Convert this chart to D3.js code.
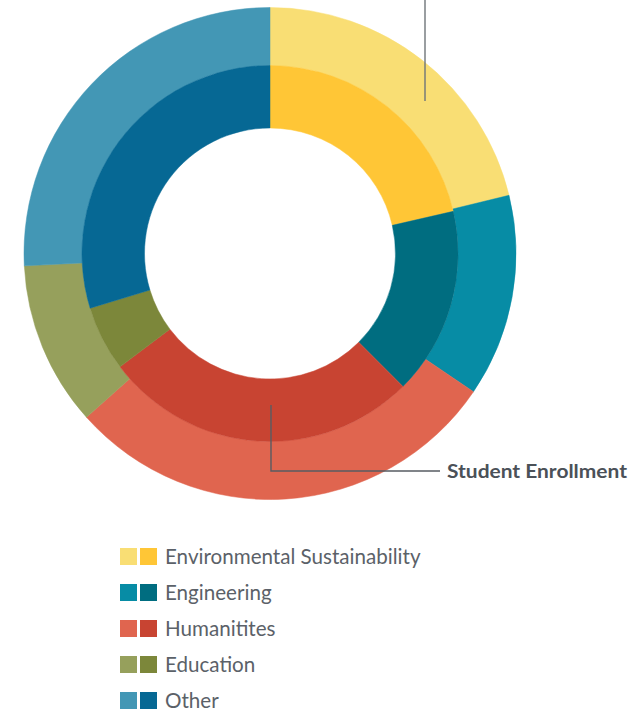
<!DOCTYPE html>
<html>
<head>
<meta charset="utf-8">
<script src="https://cdn.jsdelivr.net/npm/d3@7"></script>
<style>
  html, body { margin: 0; padding: 0; background: #ffffff; }
  svg { display: block; }
</style>
</head>
<body>
<div id="chart"></div>
<script>
// ---- data ----
const categories = ["Environmental Sustainability", "Engineering", "Humanitites", "Education", "Other"];
const outerValues = [21.2, 13.3, 28.9, 10.8, 25.8];   // outer ring (%)
const innerValues = [21.4, 16.1, 27.2, 5.6, 29.7];    // inner ring (%)
const outerColors = ["#F9DE74", "#078CA5", "#E0654F", "#96A05C", "#4397B5"];
const innerColors = ["#FFC636", "#006D80", "#C84432", "#7C873A", "#066894"];
const annotationLabel = "Student Enrollment";

// ---- layout ----
const W = 631, H = 710;
const cx = 270, cy = 253.5;
const rHole = 125.5, rMid = 188, rOuter = 246;

const svg = d3.select("#chart").append("svg")
  .attr("width", W).attr("height", H);

const pie = d3.pie().sort(null).value(d => d);
const g = svg.append("g").attr("transform", `translate(${cx},${cy})`);

const arcOuter = d3.arc().innerRadius(rMid).outerRadius(rOuter);
const arcInner = d3.arc().innerRadius(rHole).outerRadius(rMid);

g.selectAll("path.outer").data(pie(outerValues)).join("path")
  .attr("class", "outer")
  .attr("d", arcOuter)
  .attr("fill", (d, i) => outerColors[i])
  .attr("stroke", (d, i) => outerColors[i])
  .attr("stroke-width", 0.5);

g.selectAll("path.inner").data(pie(innerValues)).join("path")
  .attr("class", "inner")
  .attr("d", arcInner)
  .attr("fill", (d, i) => innerColors[i])
  .attr("stroke", (d, i) => innerColors[i])
  .attr("stroke-width", 0.5);

// ---- annotation lines ----
svg.append("line")
  .attr("x1", 425).attr("y1", 0).attr("x2", 425).attr("y2", 101)
  .attr("stroke", "#6f757a").attr("stroke-width", 1.4);

svg.append("path")
  .attr("d", "M271,405 V471 H440")
  .attr("fill", "none")
  .attr("stroke", "#575c63").attr("stroke-width", 1.4);

svg.append("text")
  .attr("x", 447).attr("y", 477.5)
  .attr("font-family", "'Source Sans Pro', Lato, 'Open Sans', sans-serif")
  .attr("font-weight", 700)
  .attr("font-size", 18.5)
  .attr("fill", "#4b5158")
  .attr("textLength", 180)
  .attr("lengthAdjust", "spacingAndGlyphs")
  .text(annotationLabel);

// ---- legend ----
const legend = svg.append("g");
const rowY = d3.scalePoint().domain(categories).range([548, 692]);
const rows = legend.selectAll("g.row").data(categories).join("g")
  .attr("class", "row")
  .attr("transform", d => `translate(0,${rowY(d)})`);

rows.append("rect").attr("x", 120).attr("y", 0).attr("width", 17).attr("height", 17)
  .attr("fill", (d, i) => outerColors[i]);
rows.append("rect").attr("x", 140).attr("y", 0).attr("width", 17).attr("height", 17)
  .attr("fill", (d, i) => innerColors[i]);
rows.append("text")
  .attr("x", 165).attr("y", 16)
  .attr("font-family", "'Source Sans Pro', Lato, 'Open Sans', sans-serif")
  .attr("font-size", 20.6)
  .attr("fill", "#5b6168")
  .text(d => d);
</script>
</body>
</html>
